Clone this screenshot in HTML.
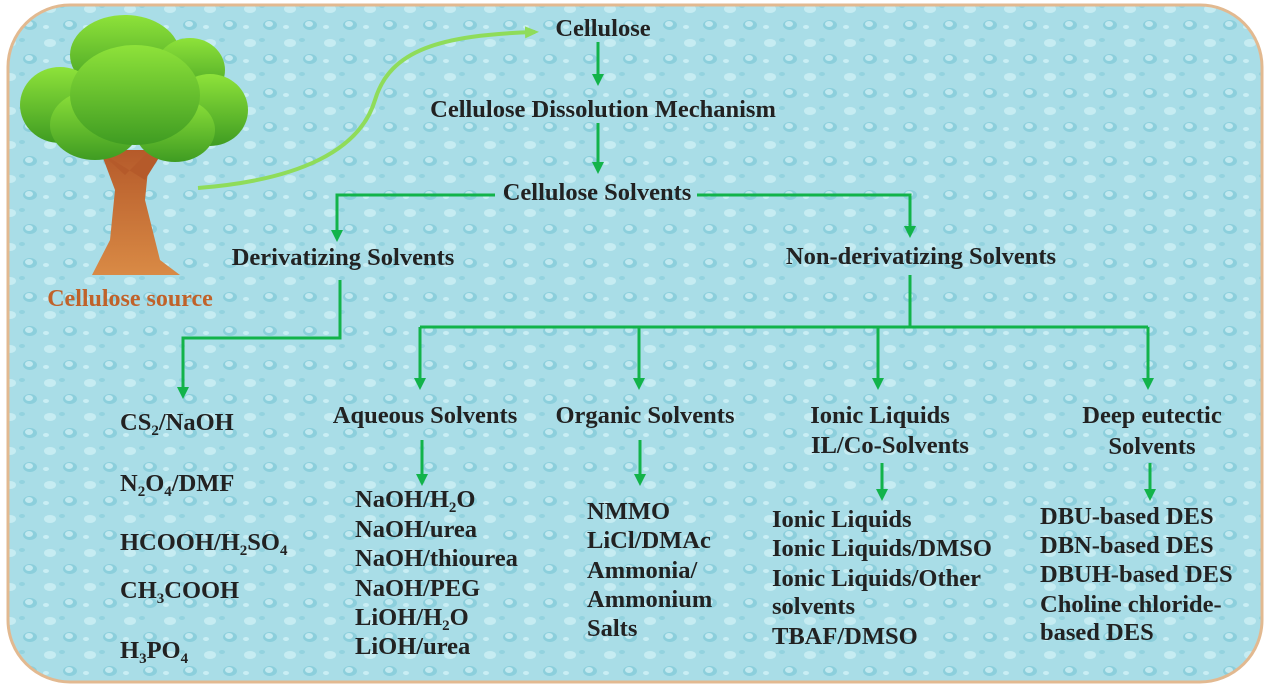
<!DOCTYPE html>
<html><head><meta charset="utf-8"><style>
html,body{margin:0;padding:0;background:#fff;}
svg{display:block}
text{font-family:"Liberation Serif",serif;font-weight:bold;font-size:24.5px;fill:#222;}
</style></head><body>
<svg width="1268" height="689" viewBox="0 0 1268 689" xmlns="http://www.w3.org/2000/svg">
<defs>
<pattern id="drops" width="40" height="34" patternUnits="userSpaceOnUse">
<rect width="40" height="34" fill="#a9dde7"/>
<ellipse cx="10" cy="9" rx="6" ry="4" fill="#c6ecf2"/>
<ellipse cx="30" cy="25" rx="7" ry="5" fill="#8ccfdc"/>
<ellipse cx="29" cy="24" rx="4" ry="3" fill="#c2e9f0"/>
<ellipse cx="22" cy="6" rx="3" ry="2" fill="#93d3df"/>
<ellipse cx="6" cy="27" rx="3" ry="2" fill="#c9eef4"/>
</pattern>
<linearGradient id="leaf" x1="0" y1="0" x2="0" y2="1"><stop offset="0" stop-color="#8ee23a"/><stop offset="1" stop-color="#3f9c22"/></linearGradient>
<linearGradient id="trunk" x1="0" y1="0" x2="0" y2="1"><stop offset="0" stop-color="#b55a2a"/><stop offset="1" stop-color="#d98a45"/></linearGradient>
<marker id="ah" markerWidth="12" markerHeight="12" refX="6" refY="6" orient="auto" markerUnits="userSpaceOnUse"><path d="M0,0 L12,6 L0,12 z" fill="#12b34a"/></marker>
<marker id="ah2" markerWidth="14" markerHeight="12" refX="10" refY="6" orient="auto" markerUnits="userSpaceOnUse"><path d="M0,0 L14,6 L0,12 z" fill="#8fdc5a"/></marker>
</defs>
<rect x="8" y="5" width="1254" height="677" rx="62" fill="url(#drops)" stroke="#e2b990" stroke-width="3"/>
<!-- tree -->
<path d="M100,150 L150,150 L145,200 L160,260 L180,275 L92,275 L110,240 L115,190 Z" fill="url(#trunk)"/>
<path d="M100,152 L125,175 L150,150 L165,148 L145,180 Z" fill="#b55a2a"/>
<g fill="url(#leaf)">
<ellipse cx="125" cy="55" rx="55" ry="40"/><ellipse cx="190" cy="70" rx="35" ry="32"/>
<ellipse cx="60" cy="105" rx="40" ry="38"/><ellipse cx="210" cy="110" rx="38" ry="36"/>
<ellipse cx="95" cy="125" rx="45" ry="35"/><ellipse cx="175" cy="130" rx="40" ry="32"/><ellipse cx="135" cy="95" rx="65" ry="50"/>
</g>
<text x="130" y="306" text-anchor="middle" style="fill:#c0622a;font-size:24px">Cellulose source</text>
<path d="M198,188 C300,180 360,150 375,100 C390,50 440,35 535,32" fill="none" stroke="#8fdc5a" stroke-width="4" marker-end="url(#ah2)"/>
<!-- connectors -->
<g stroke="#12b34a" stroke-width="3" fill="none">
<line x1="598" y1="42" x2="598" y2="80" marker-end="url(#ah)"/>
<line x1="598" y1="123" x2="598" y2="168" marker-end="url(#ah)"/>
<polyline points="495,195 337,195 337,236" marker-end="url(#ah)"/>
<polyline points="697,195 910,195 910,232" marker-end="url(#ah)"/>
<polyline points="340,280 340,338 183,338 183,393" marker-end="url(#ah)"/>
<line x1="910" y1="275" x2="910" y2="327"/>
<line x1="420" y1="327" x2="1148" y2="327"/>
<line x1="420" y1="327" x2="420" y2="384" marker-end="url(#ah)"/>
<line x1="639" y1="327" x2="639" y2="384" marker-end="url(#ah)"/>
<line x1="878" y1="327" x2="878" y2="384" marker-end="url(#ah)"/>
<line x1="1148" y1="327" x2="1148" y2="384" marker-end="url(#ah)"/>
<line x1="422" y1="440" x2="422" y2="480" marker-end="url(#ah)"/>
<line x1="640" y1="440" x2="640" y2="480" marker-end="url(#ah)"/>
<line x1="882" y1="463" x2="882" y2="495" marker-end="url(#ah)"/>
<line x1="1150" y1="463" x2="1150" y2="495" marker-end="url(#ah)"/>
</g>
<g text-anchor="middle">
<text x="603" y="36">Cellulose</text>
<text x="603" y="117">Cellulose Dissolution Mechanism</text>
<text x="597" y="200">Cellulose Solvents</text>
<text x="343" y="265">Derivatizing Solvents</text>
<text x="921" y="264">Non-derivatizing Solvents</text>
<text x="425" y="423">Aqueous Solvents</text>
<text x="645" y="423">Organic Solvents</text>
<text x="880" y="423">Ionic Liquids</text>
<text x="890" y="453">IL/Co-Solvents</text>
<text x="1152" y="423">Deep eutectic</text>
<text x="1152" y="454">Solvents</text>
</g>
<g>
<text x="120" y="430">CS<tspan font-size="15" dy="5">2</tspan><tspan dy="-5">/NaOH</tspan></text>
<text x="120" y="491">N<tspan font-size="15" dy="5">2</tspan><tspan dy="-5">O</tspan><tspan font-size="15" dy="5">4</tspan><tspan dy="-5">/DMF</tspan></text>
<text x="120" y="550">HCOOH/H<tspan font-size="15" dy="5">2</tspan><tspan dy="-5">SO</tspan><tspan font-size="15" dy="5">4</tspan></text>
<text x="120" y="598">CH<tspan font-size="15" dy="5">3</tspan><tspan dy="-5">COOH</tspan></text>
<text x="120" y="658">H<tspan font-size="15" dy="5">3</tspan><tspan dy="-5">PO</tspan><tspan font-size="15" dy="5">4</tspan></text>
</g>
<g>
<text x="355" y="507">NaOH/H<tspan font-size="15" dy="5">2</tspan><tspan dy="-5">O</tspan></text>
<text x="355" y="537">NaOH/urea</text>
<text x="355" y="566">NaOH/thiourea</text>
<text x="355" y="596">NaOH/PEG</text>
<text x="355" y="625">LiOH/H<tspan font-size="15" dy="5">2</tspan><tspan dy="-5">O</tspan></text>
<text x="355" y="654">LiOH/urea</text>
</g>
<g>
<text x="587" y="519">NMMO</text>
<text x="587" y="548">LiCl/DMAc</text>
<text x="587" y="578">Ammonia/</text>
<text x="587" y="607">Ammonium</text>
<text x="587" y="636">Salts</text>
</g>
<g>
<text x="772" y="527">Ionic Liquids</text>
<text x="772" y="556">Ionic Liquids/DMSO</text>
<text x="772" y="586">Ionic Liquids/Other</text>
<text x="772" y="614">solvents</text>
<text x="772" y="644">TBAF/DMSO</text>
</g>
<g>
<text x="1040" y="524">DBU-based DES</text>
<text x="1040" y="553">DBN-based DES</text>
<text x="1040" y="582">DBUH-based DES</text>
<text x="1040" y="612">Choline chloride-</text>
<text x="1040" y="640">based DES</text>
</g>
</svg>
</body></html>
